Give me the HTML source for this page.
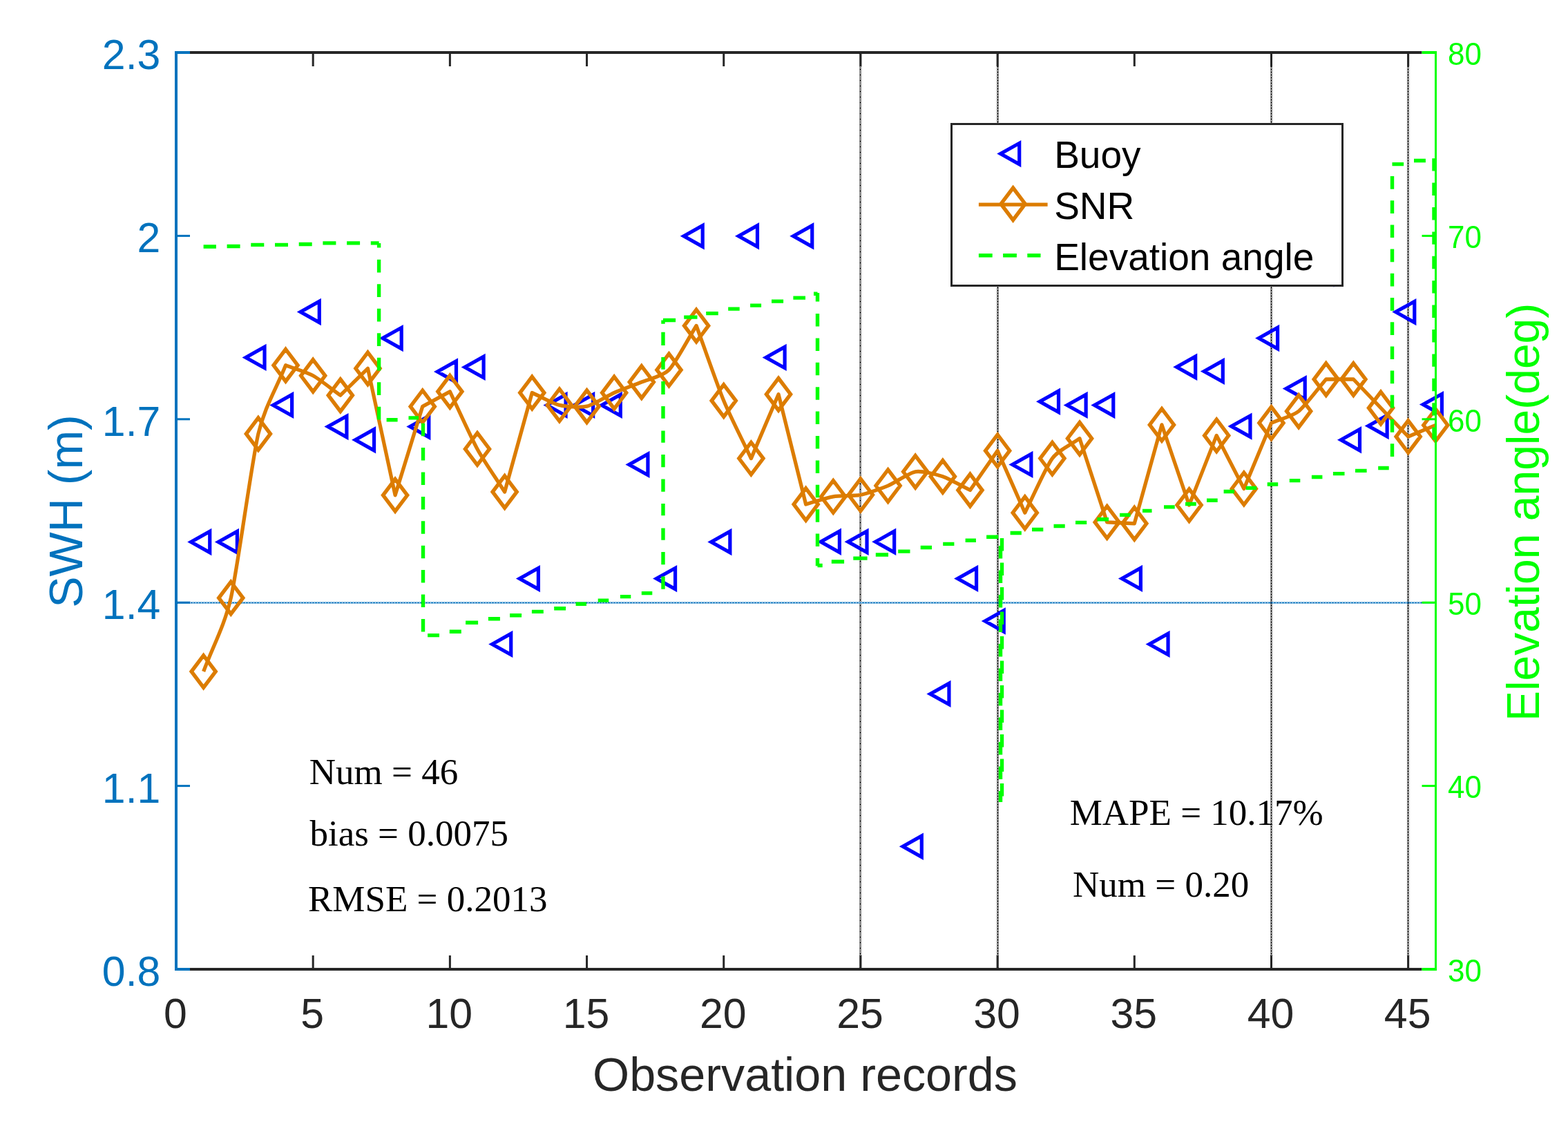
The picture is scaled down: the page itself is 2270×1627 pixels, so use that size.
<!DOCTYPE html>
<html><head><meta charset="utf-8"><title>SWH chart</title>
<style>
html,body{margin:0;padding:0;background:#fff;}
svg{display:block;}
.tk{font-family:"Liberation Sans",Arial,Helvetica,sans-serif;}
.sf{font-family:"Liberation Serif","Times New Roman",serif;}
</style></head><body>
<svg xmlns="http://www.w3.org/2000/svg" width="2270" height="1627" viewBox="0 0 2270 1627">
<defs>
<pattern id="chkv" x="0" y="0" width="3" height="4" patternUnits="userSpaceOnUse"><path d="M0,0h3v1h-3zM1,1h1v1h-1zM0,2h1v1h-1zM2,2h1v1h-1zM1,3h1v1h-1z" fill="#1e1e1e"/></pattern>
<pattern id="chkv8" x="0" y="0" width="3" height="8" patternUnits="userSpaceOnUse"><path d="M0,0h3v1h-3zM1,1h1v1h-1zM0,2h1v1h-1zM2,2h1v1h-1zM1,3h1v1h-1zM0,4h1v1h-1zM2,4h1v1h-1zM1,5h1v1h-1zM0,6h1v1h-1zM2,6h1v1h-1zM1,7h1v1h-1z" fill="#1e1e1e"/></pattern>
<pattern id="chkb" x="0" y="0" width="4" height="3" patternUnits="userSpaceOnUse"><path d="M0,0h1v3h-1zM1,1h1v1h-1zM2,0h1v1h-1zM2,2h1v1h-1zM3,1h1v1h-1z" fill="#0072BD"/></pattern>
</defs>
<rect x="0" y="0" width="2270" height="1627" fill="#fff"/>

<g class="sf" font-size="53" fill="#000">
<text x="447.8" y="1135">Num = 46</text>
<text x="448.5" y="1224.4">bias = 0.0075</text>
<text x="446" y="1318.7">RMSE = 0.2013</text>
<text x="1548.7" y="1193.8">MAPE = 10.17%</text>
<text x="1553.1" y="1298.4">Num = 0.20</text>
</g>
<rect x="0" y="0" width="3" height="1327" fill="url(#chkv8)" transform="translate(1244,76)"/>
<rect x="0" y="0" width="3" height="1327" fill="url(#chkv)" transform="translate(1443,76)"/>
<rect x="0" y="0" width="3" height="1327" fill="url(#chkv)" transform="translate(1839,76)"/>
<rect x="0" y="0" width="3" height="1327" fill="url(#chkv)" transform="translate(2037,76)"/>
<rect x="0" y="0" width="1820" height="3" fill="url(#chkb)" transform="translate(257,871)"/>
<path d="M276.54,784.5L303.74,769.25L303.74,799.75ZM316.17,784.5L343.37,769.25L343.37,799.75ZM355.81,517.4L383.01,502.15L383.01,532.65ZM395.45,586.4L422.65,571.15L422.65,601.65ZM435.08,451.5L462.28,436.25L462.28,466.75ZM474.72,617.6L501.92,602.35L501.92,632.85ZM514.36,636.7L541.56,621.45L541.56,651.95ZM554,489.6L581.2,474.35L581.2,504.85ZM593.63,617.5L620.83,602.25L620.83,632.75ZM633.27,538L660.47,522.75L660.47,553.25ZM672.91,531.4L700.11,516.15L700.11,546.65ZM712.54,932.4L739.74,917.15L739.74,947.65ZM752.18,837.6L779.38,822.35L779.38,852.85ZM791.82,586.4L819.02,571.15L819.02,601.65ZM831.45,586.4L858.65,571.15L858.65,601.65ZM871.09,586.4L898.29,571.15L898.29,601.65ZM910.73,672.4L937.93,657.15L937.93,687.65ZM950.37,837.6L977.57,822.35L977.57,852.85ZM990,341.7L1017.2,326.45L1017.2,356.95ZM1029.64,784.5L1056.84,769.25L1056.84,799.75ZM1069.28,341.7L1096.48,326.45L1096.48,356.95ZM1108.91,517.4L1136.11,502.15L1136.11,532.65ZM1148.55,341.7L1175.75,326.45L1175.75,356.95ZM1188.19,784.3L1215.39,769.05L1215.39,799.55ZM1227.82,784.3L1255.02,769.05L1255.02,799.55ZM1267.46,784.3L1294.66,769.05L1294.66,799.55ZM1307.1,1225.2L1334.3,1209.95L1334.3,1240.45ZM1346.73,1004.4L1373.93,989.15L1373.93,1019.65ZM1386.37,837.4L1413.57,822.15L1413.57,852.65ZM1426.01,899L1453.21,883.75L1453.21,914.25ZM1465.65,672.4L1492.85,657.15L1492.85,687.65ZM1505.28,581.3L1532.48,566.05L1532.48,596.55ZM1544.92,586.4L1572.12,571.15L1572.12,601.65ZM1584.56,586.6L1611.76,571.35L1611.76,601.85ZM1624.19,837.4L1651.39,822.15L1651.39,852.65ZM1663.83,932.4L1691.03,917.15L1691.03,947.65ZM1703.47,531.3L1730.67,516.05L1730.67,546.55ZM1743.1,537.4L1770.3,522.15L1770.3,552.65ZM1782.74,617.1L1809.94,601.85L1809.94,632.35ZM1822.38,489.5L1849.58,474.25L1849.58,504.75ZM1862.02,562.6L1889.22,547.35L1889.22,577.85ZM1901.65,396L1928.85,380.75L1928.85,411.25ZM1941.29,636.7L1968.49,621.45L1968.49,651.95ZM1980.93,616.5L2008.13,601.25L2008.13,631.75ZM2020.56,451.6L2047.76,436.35L2047.76,466.85ZM2060.2,585.6L2087.4,570.35L2087.4,600.85Z" fill="none" stroke="#0000FF" stroke-width="5.2" stroke-linejoin="miter" stroke-miterlimit="10"/>
<path d="M294.64,972C307.85,936.5 325.03,905.63 334.27,865.5C343.52,825.37 364.66,667.28 373.91,628C383.16,588.72 400.34,561.87 413.55,528.8C426.76,533.8 443.94,538.74 453.18,543.8C462.43,548.86 479.61,562.73 492.82,572.2C506.03,559.23 519.25,546.27 532.46,533.3C545.67,594.47 558.88,655.63 572.1,716.8C585.31,674 598.52,631.2 611.73,588.4C624.94,581.2 638.16,574 651.37,566.8C664.58,594.5 681.76,632.96 691.01,649.9C700.26,666.84 717.43,691.3 730.64,712C743.86,664.17 757.07,616.33 770.28,568.5C783.49,574.47 800.67,584.1 809.92,586.4C819.17,588.7 840.31,590.29 849.55,588.2C858.8,586.11 879.94,572.61 889.19,568.5C898.44,564.39 919.58,556.86 928.83,553C938.08,549.14 959.22,544.91 968.47,535.4C977.71,525.89 994.89,492.8 1008.1,471.5C1021.31,507.67 1038.49,557.59 1047.74,580C1056.99,602.41 1074.16,635.73 1087.38,663.6C1100.59,632.63 1113.8,601.67 1127.01,570.7C1140.23,623.8 1153.44,676.9 1166.65,730C1179.86,726.3 1197.04,720.5 1206.29,718.9C1215.54,717.3 1236.68,718.14 1245.92,716.3C1255.17,714.46 1276.31,707.01 1285.56,703.1C1294.81,699.19 1315.95,684.36 1325.2,682.8C1334.45,681.24 1355.59,686.59 1364.83,689.7C1374.08,692.82 1391.26,702.9 1404.47,709.5C1417.68,690.47 1430.9,671.43 1444.11,652.4C1457.32,682.33 1470.53,712.27 1483.75,742.2C1496.96,716 1514.13,676.14 1523.38,663.6C1532.63,651.06 1549.81,644.33 1563.02,634.7C1576.23,675.1 1589.44,715.5 1602.66,755.9C1615.87,756.53 1629.08,757.17 1642.29,757.8C1655.51,710.17 1668.72,662.53 1681.93,614.9C1695.14,653.63 1708.36,692.37 1721.57,731.1C1734.78,697.53 1747.99,663.97 1761.2,630.4C1774.42,656.07 1787.63,681.73 1800.84,707.4C1814.05,675.67 1827.27,643.93 1840.48,612.2C1853.69,606.53 1870.87,602.57 1880.12,595.2C1889.36,587.83 1906.54,564.4 1919.75,549C1932.96,549 1946.18,549 1959.39,549C1972.6,562.83 1989.78,580.82 1999.03,590.5C2008.27,600.18 2025.45,618.17 2038.66,632C2051.88,626.47 2065.09,620.93 2078.3,615.4" fill="none" stroke="#DC7C00" stroke-width="5.3" stroke-linejoin="round"/>
<path d="M294.64,948.8L312.19,972L294.64,995.2L277.09,972ZM334.27,842.3L351.82,865.5L334.27,888.7L316.72,865.5ZM373.91,604.8L391.46,628L373.91,651.2L356.36,628ZM413.55,505.6L431.1,528.8L413.55,552L396,528.8ZM453.18,520.6L470.73,543.8L453.18,567L435.63,543.8ZM492.82,549L510.37,572.2L492.82,595.4L475.27,572.2ZM532.46,510.1L550.01,533.3L532.46,556.5L514.91,533.3ZM572.1,693.6L589.65,716.8L572.1,740L554.55,716.8ZM611.73,565.2L629.28,588.4L611.73,611.6L594.18,588.4ZM651.37,543.6L668.92,566.8L651.37,590L633.82,566.8ZM691.01,626.7L708.56,649.9L691.01,673.1L673.46,649.9ZM730.64,688.8L748.19,712L730.64,735.2L713.09,712ZM770.28,545.3L787.83,568.5L770.28,591.7L752.73,568.5ZM809.92,563.2L827.47,586.4L809.92,609.6L792.37,586.4ZM849.55,565L867.1,588.2L849.55,611.4L832,588.2ZM889.19,545.3L906.74,568.5L889.19,591.7L871.64,568.5ZM928.83,529.8L946.38,553L928.83,576.2L911.28,553ZM968.47,512.2L986.02,535.4L968.47,558.6L950.92,535.4ZM1008.1,448.3L1025.65,471.5L1008.1,494.7L990.55,471.5ZM1047.74,556.8L1065.29,580L1047.74,603.2L1030.19,580ZM1087.38,640.4L1104.93,663.6L1087.38,686.8L1069.83,663.6ZM1127.01,547.5L1144.56,570.7L1127.01,593.9L1109.46,570.7ZM1166.65,706.8L1184.2,730L1166.65,753.2L1149.1,730ZM1206.29,695.7L1223.84,718.9L1206.29,742.1L1188.74,718.9ZM1245.92,693.1L1263.47,716.3L1245.92,739.5L1228.37,716.3ZM1285.56,679.9L1303.11,703.1L1285.56,726.3L1268.01,703.1ZM1325.2,659.6L1342.75,682.8L1325.2,706L1307.65,682.8ZM1364.83,666.5L1382.38,689.7L1364.83,712.9L1347.28,689.7ZM1404.47,686.3L1422.02,709.5L1404.47,732.7L1386.92,709.5ZM1444.11,629.2L1461.66,652.4L1444.11,675.6L1426.56,652.4ZM1483.75,719L1501.3,742.2L1483.75,765.4L1466.2,742.2ZM1523.38,640.4L1540.93,663.6L1523.38,686.8L1505.83,663.6ZM1563.02,611.5L1580.57,634.7L1563.02,657.9L1545.47,634.7ZM1602.66,732.7L1620.21,755.9L1602.66,779.1L1585.11,755.9ZM1642.29,734.6L1659.84,757.8L1642.29,781L1624.74,757.8ZM1681.93,591.7L1699.48,614.9L1681.93,638.1L1664.38,614.9ZM1721.57,707.9L1739.12,731.1L1721.57,754.3L1704.02,731.1ZM1761.2,607.2L1778.75,630.4L1761.2,653.6L1743.65,630.4ZM1800.84,684.2L1818.39,707.4L1800.84,730.6L1783.29,707.4ZM1840.48,589L1858.03,612.2L1840.48,635.4L1822.93,612.2ZM1880.12,572L1897.67,595.2L1880.12,618.4L1862.57,595.2ZM1919.75,525.8L1937.3,549L1919.75,572.2L1902.2,549ZM1959.39,525.8L1976.94,549L1959.39,572.2L1941.84,549ZM1999.03,567.3L2016.58,590.5L1999.03,613.7L1981.48,590.5ZM2038.66,608.8L2056.21,632L2038.66,655.2L2021.11,632ZM2078.3,592.2L2095.85,615.4L2078.3,638.6L2060.75,615.4Z" fill="none" stroke="#DC7C00" stroke-width="5.4" stroke-linejoin="miter" stroke-miterlimit="10"/>
<path d="M294.6,357L312.9,357M328.6,356.52L347.6,356.52M363.3,354.4L382.3,354.4M398,354.4L417,354.4M432.7,353.48L451.7,353.48M467.4,351.9L486.4,351.9M502.1,351.9L521.1,351.9M536.8,351.9L548.6,351.9M548.6,351.9L548.6,358.5M548.6,375.7L548.6,394.4M548.6,411.2L548.6,429.9M548.6,446.7L548.6,465.4M548.6,482.2L548.6,500.9M548.6,517.7L548.6,536.4M548.6,553.2L548.6,571.9M548.6,588.7L548.6,607.4M559.6,607.74L575.6,607.74M591.5,604.84L606,604.84M612.5,612.7L612.5,631.2M612.5,648.1L612.5,666.6M612.5,683.5L612.5,702M612.5,718.9L612.5,737.4M612.5,754.3L612.5,772.8M612.5,789.7L612.5,808.2M612.5,825.1L612.5,843.6M612.5,860.5L612.5,879M612.5,895.9L612.5,914.4M619.1,919.63L636,919.63M650.8,914.3L667.8,914.3M674.1,901.3L692.1,901.3M706.9,895.7L723.9,895.7M738.1,890.7L755.1,890.7M769.9,885.4L786.8,885.4M802.2,880.7L819.1,880.7M833.6,874.32L849,874.32M865.7,869.16L881.2,869.16M897.9,863.65L913.3,863.65M928.8,858.65L944.3,858.65M960,834.5L960,852.8M960,799L960,817.3M960,764.5L960,781.8M960,729L960,746.2M960,693.5L960,711.8M960,658L960,676.2M960,623.5L960,640.7M960,587.9L960,605.7M960,551.9L960,571M960,516.9L960,534.8M960,480.8L960,499.9M960,463.5L960,468.8M960,463.5L978.1,463.5M990.2,459.09L1009.5,459.09M1022.2,453.63L1039.8,453.63M1054.2,447.15L1070.7,447.15M1086.1,442.16L1102.1,442.16M1117,436.14L1134.1,436.14M1148.4,431.12L1166,431.12M1178,425.22L1183.5,425.22M1183.5,424L1183.5,436.5M1183.5,454L1183.5,472.5M1183.5,489.4L1183.5,507.9M1183.5,524.8L1183.5,543.3M1183.5,560.2L1183.5,578.7M1183.5,595.6L1183.5,614.1M1183.5,631L1183.5,649.5M1183.5,666.4L1183.5,684.9M1183.5,701.8L1183.5,720.3M1183.5,737.2L1183.5,755.7M1183.5,772.6L1183.5,791.1M1183.5,808L1183.5,819.3M1183.5,818.53L1190.7,818.53M1203.8,813.05L1222.1,813.05M1235.3,808.09L1255.6,808.09M1267.8,803.02L1286,803.02M1300.2,798.08L1317.5,798.08M1332.7,792.49L1349,792.49M1365.2,787.4L1381.4,787.4M1397.6,782.31L1412.9,782.31M1428.1,777.28L1445.3,777.28M1448.5,790L1448.5,808.5M1448.5,825.5L1448.5,844M1448.5,861L1448.5,879.5M1448.5,896.5L1448.5,915M1448.5,932L1448.5,950.5M1448.5,967.5L1448.5,986M1448.5,1003L1448.5,1021.5M1448.5,1038.5L1448.5,1057M1448.5,1074L1448.5,1092.5M1448.5,1109.5L1448.5,1128M1448.5,1145L1448.5,1161M1450.5,779L1450.5,797.5M1450.5,814.5L1450.5,833M1450.5,850L1450.5,868.5M1450.5,885.5L1450.5,904M1450.5,921L1450.5,939.5M1450.5,956.5L1450.5,975M1450.5,992L1450.5,1010.5M1450.5,1027.5L1450.5,1046M1450.5,1063L1450.5,1081.5M1450.5,1098.5L1450.5,1117M1450.5,1134L1450.5,1152.5M1462.6,771.44L1478.8,771.44M1494,766.49L1510.3,766.49M1525.5,761.5L1541.7,761.5M1557,756.39L1573.2,756.39M1588.4,751.82L1605,751.82M1621,745.36L1636.5,745.36M1654,739.37L1667.5,739.37M1685,733.88L1700.7,733.88M1716,729.52L1731.7,729.52M1747,724.21L1762.7,724.21M1771.6,711.47L1787,711.47M1803.7,706.4L1819.2,706.4M1834.7,700.96L1850.2,700.96M1866.8,695.61L1882.3,695.61M1898.9,690.51L1914.4,690.51M1929.9,685.67L1946.5,685.67M1962,681.38L1978.6,681.38M1995.2,677.51L2010.7,677.51M2015.5,255L2015.5,273.7M2015.5,290.2L2015.5,308.9M2015.5,325.4L2015.5,344.1M2015.5,360.6L2015.5,379.3M2015.5,395.8L2015.5,414.5M2015.5,431L2015.5,449.7M2015.5,466.2L2015.5,484.9M2015.5,501.4L2015.5,520.1M2015.5,536.6L2015.5,555.3M2015.5,571.8L2015.5,590.5M2015.5,607L2015.5,625.7M2015.5,642.2L2015.5,660.9M2015.5,237.67L2032.1,237.67M2047,232.5L2063.9,232.5M2076,229.2L2076,247.6M2076,264.6L2076,283M2076,300L2076,318.4M2076,335.4L2076,353.8M2076,370.8L2076,389.2M2076,406.2L2076,424.6M2076,441.6L2076,460M2076,477L2076,495.4M2076,512.4L2076,530.8M2076,547.8L2076,566.2M2076,583.2L2076,601.6M2076,618.6L2076,636.5" fill="none" stroke="#00FF00" stroke-width="5.4" stroke-linejoin="miter" stroke-linecap="butt"/>
<line x1="275" y1="76" x2="2058.5" y2="76" stroke="#262626" stroke-width="4"/>
<line x1="275" y1="1403" x2="2058.5" y2="1403" stroke="#262626" stroke-width="4"/>
<line x1="255" y1="76" x2="255" y2="96" stroke="#262626" stroke-width="3"/>
<line x1="255" y1="1403" x2="255" y2="1383" stroke="#262626" stroke-width="3"/>
<line x1="453.18" y1="76" x2="453.18" y2="96" stroke="#262626" stroke-width="3"/>
<line x1="453.18" y1="1403" x2="453.18" y2="1383" stroke="#262626" stroke-width="3"/>
<line x1="651.37" y1="76" x2="651.37" y2="96" stroke="#262626" stroke-width="3"/>
<line x1="651.37" y1="1403" x2="651.37" y2="1383" stroke="#262626" stroke-width="3"/>
<line x1="849.55" y1="76" x2="849.55" y2="96" stroke="#262626" stroke-width="3"/>
<line x1="849.55" y1="1403" x2="849.55" y2="1383" stroke="#262626" stroke-width="3"/>
<line x1="1047.74" y1="76" x2="1047.74" y2="96" stroke="#262626" stroke-width="3"/>
<line x1="1047.74" y1="1403" x2="1047.74" y2="1383" stroke="#262626" stroke-width="3"/>
<line x1="1245.92" y1="76" x2="1245.92" y2="96" stroke="#262626" stroke-width="3"/>
<line x1="1245.92" y1="1403" x2="1245.92" y2="1383" stroke="#262626" stroke-width="3"/>
<line x1="1444.11" y1="76" x2="1444.11" y2="96" stroke="#262626" stroke-width="3"/>
<line x1="1444.11" y1="1403" x2="1444.11" y2="1383" stroke="#262626" stroke-width="3"/>
<line x1="1642.29" y1="76" x2="1642.29" y2="96" stroke="#262626" stroke-width="3"/>
<line x1="1642.29" y1="1403" x2="1642.29" y2="1383" stroke="#262626" stroke-width="3"/>
<line x1="1840.48" y1="76" x2="1840.48" y2="96" stroke="#262626" stroke-width="3"/>
<line x1="1840.48" y1="1403" x2="1840.48" y2="1383" stroke="#262626" stroke-width="3"/>
<line x1="2038.66" y1="76" x2="2038.66" y2="96" stroke="#262626" stroke-width="3"/>
<line x1="2038.66" y1="1403" x2="2038.66" y2="1383" stroke="#262626" stroke-width="3"/>
<line x1="255" y1="74" x2="255" y2="1405" stroke="#0072BD" stroke-width="4"/>
<line x1="253" y1="1403" x2="275" y2="1403" stroke="#0072BD" stroke-width="4"/>
<line x1="253" y1="1137.6" x2="275" y2="1137.6" stroke="#0072BD" stroke-width="3"/>
<line x1="253" y1="872.2" x2="275" y2="872.2" stroke="#0072BD" stroke-width="3"/>
<line x1="253" y1="606.8" x2="275" y2="606.8" stroke="#0072BD" stroke-width="3"/>
<line x1="253" y1="341.4" x2="275" y2="341.4" stroke="#0072BD" stroke-width="3"/>
<line x1="253" y1="76" x2="275" y2="76" stroke="#0072BD" stroke-width="4"/>
<line x1="2078.5" y1="74.5" x2="2078.5" y2="1404.5" stroke="#00FF00" stroke-width="3"/>
<line x1="2058.5" y1="1403" x2="2080" y2="1403" stroke="#00FF00" stroke-width="4"/>
<line x1="2058.5" y1="1137.6" x2="2080" y2="1137.6" stroke="#00FF00" stroke-width="3"/>
<line x1="2058.5" y1="872.2" x2="2080" y2="872.2" stroke="#00FF00" stroke-width="3"/>
<line x1="2058.5" y1="606.8" x2="2080" y2="606.8" stroke="#00FF00" stroke-width="3"/>
<line x1="2058.5" y1="341.4" x2="2080" y2="341.4" stroke="#00FF00" stroke-width="3"/>
<line x1="2058.5" y1="76" x2="2080" y2="76" stroke="#00FF00" stroke-width="4"/>
<g class="tk" font-size="62" fill="#262626" text-anchor="middle">
<text transform="translate(254,1487.5) scale(0.98,1.0)">0</text>
<text transform="translate(452.18,1487.5) scale(0.98,1.0)">5</text>
<text transform="translate(650.37,1487.5) scale(0.98,1.0)">10</text>
<text transform="translate(848.55,1487.5) scale(0.98,1.0)">15</text>
<text transform="translate(1046.74,1487.5) scale(0.98,1.0)">20</text>
<text transform="translate(1244.92,1487.5) scale(0.98,1.0)">25</text>
<text transform="translate(1443.11,1487.5) scale(0.98,1.0)">30</text>
<text transform="translate(1641.29,1487.5) scale(0.98,1.0)">35</text>
<text transform="translate(1839.48,1487.5) scale(0.98,1.0)">40</text>
<text transform="translate(2037.66,1487.5) scale(0.98,1.0)">45</text>
</g>
<g class="tk" font-size="62" fill="#0072BD" text-anchor="end">
<text transform="translate(232.3,1427) scale(0.98,1.0)">0.8</text>
<text transform="translate(232.3,1161.6) scale(0.98,1.0)">1.1</text>
<text transform="translate(232.3,896.2) scale(0.98,1.0)">1.4</text>
<text transform="translate(232.3,630.8) scale(0.98,1.0)">1.7</text>
<text transform="translate(232.3,365.4) scale(0.98,1.0)">2</text>
<text transform="translate(232.3,100) scale(0.98,1.0)">2.3</text>
</g>
<g class="tk" font-size="44" fill="#00FF00">
<text transform="translate(2096,1420.7) scale(1,1.035)">30</text>
<text transform="translate(2096,1155.3) scale(1,1.035)">40</text>
<text transform="translate(2096,889.9) scale(1,1.035)">50</text>
<text transform="translate(2096,624.5) scale(1,1.035)">60</text>
<text transform="translate(2096,359.1) scale(1,1.035)">70</text>
<text transform="translate(2096,93.7) scale(1,1.035)">80</text>
</g>
<text class="tk" x="1165.5" y="1578.6" font-size="68.3" fill="#262626" text-anchor="middle">Observation records</text>
<text class="tk" transform="translate(118.9,740) rotate(-90)" x="0" y="0" font-size="68" fill="#0072BD" text-anchor="middle">SWH (m)</text>
<text class="tk" transform="translate(2228,741.4) rotate(-90)" x="0" y="0" font-size="66" fill="#00FF00" text-anchor="middle">Elevation angle(deg)</text>
<rect x="1377.5" y="179.5" width="566" height="234" fill="#fff" stroke="#262626" stroke-width="3"/>
<path d="M1448.5,222.6L1475.7,207.35L1475.7,237.85Z" fill="none" stroke="#0000FF" stroke-width="5.2"/>
<line x1="1416.9" y1="296.2" x2="1516.6" y2="296.2" stroke="#DC7C00" stroke-width="5.3"/>
<path d="M1466.6,272L1484.15,295.2L1466.6,318.4L1449.05,295.2Z" fill="none" stroke="#DC7C00" stroke-width="5.4"/>
<line x1="1416.9" y1="369.8" x2="1506.5" y2="369.8" stroke="#00FF00" stroke-width="5.6" stroke-dasharray="19.8 15.4"/>
<g class="tk" font-size="55" fill="#000">
<text x="1526.2" y="243.2">Buoy</text>
<text x="1526.2" y="317.2">SNR</text>
<text x="1526.2" y="391.3">Elevation angle</text>
</g>
</svg>
</body></html>
